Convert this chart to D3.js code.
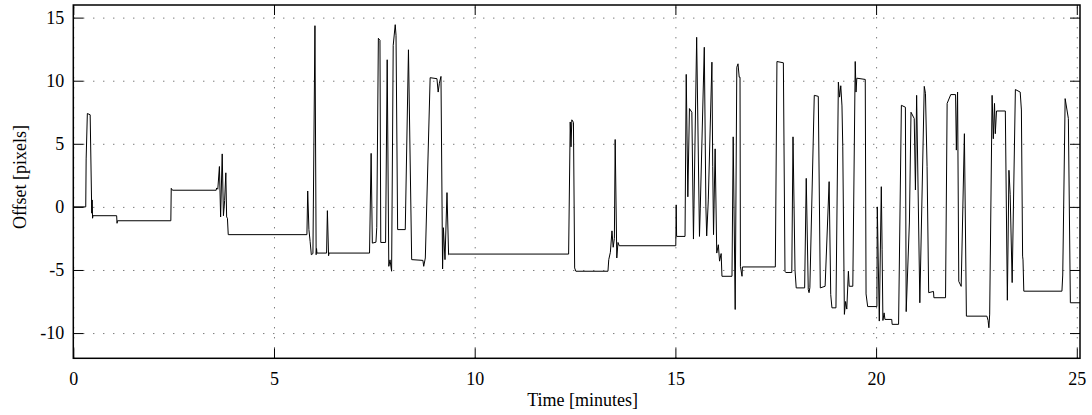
<!DOCTYPE html>
<html>
<head>
<meta charset="utf-8">
<script src="https://cdn.jsdelivr.net/npm/d3@7/dist/d3.min.js"></script>
<style>
  html, body { margin: 0; padding: 0; background: #fff; }
  svg { display: block; font-family: "Liberation Serif", "DejaVu Serif", serif; }
</style>
</head>
<body>
<svg id="chart" width="1092" height="415"></svg>
<script>
// ---- data ----
const xTicks = [0, 5, 10, 15, 20, 25];
const yTicks = [-10, -5, 0, 5, 10, 15];
const yTickLabels = ["-10", "-5", "0", "5", "10", "15"];
const xTickLabels = ["0", "5", "10", "15", "20", "25"];

const times = [
  0, 0.31, 0.32, 0.35, 0.42, 0.46, 0.47, 0.48, 0.49, 1.08, 1.09, 1.10, 2.43, 2.44, 2.47,
  3.56, 3.57, 3.60, 3.64, 3.67, 3.71, 3.74, 3.77, 3.80, 3.82, 3.84, 3.86,
  5.82, 5.84, 5.87, 5.90, 5.93, 5.97, 6.02, 6.05, 6.06, 6.07, 6.31, 6.33, 6.36, 6.37,
  7.38, 7.42, 7.45, 7.54, 7.56, 7.60, 7.64, 7.66, 7.78, 7.82, 7.86, 7.89, 7.93, 7.97,
  8.02, 8.04, 8.08, 8.27, 8.35, 8.43, 8.71, 8.73, 8.77, 8.89, 9.06, 9.09, 9.12, 9.16,
  9.20, 9.22, 9.26, 9.31, 9.35, 9.37,
  12.34, 12.38, 12.40, 12.42, 12.46, 12.49, 12.52, 13.32, 13.34, 13.38, 13.42, 13.45,
  13.48, 13.50, 13.54, 13.57, 13.60,
  15.01, 15.02, 15.03, 15.24, 15.27, 15.31, 15.35, 15.41, 15.45, 15.53, 15.60, 15.62,
  15.72, 15.76, 15.78, 15.82, 15.91, 15.93, 15.95, 15.99, 16.03, 16.07, 16.10, 16.14,
  16.16, 16.41, 16.44, 16.49, 16.53, 16.56, 16.59, 16.61, 16.62, 16.66, 16.67,
  17.49, 17.53, 17.69, 17.73, 17.75, 17.90, 17.93, 17.98, 18.01, 18.22, 18.26, 18.31,
  18.33, 18.35, 18.46, 18.56, 18.61, 18.73, 18.83, 18.87, 18.90, 19.00, 19.06, 19.09,
  19.12, 19.15, 19.17, 19.21, 19.24, 19.27, 19.31, 19.33, 19.42, 19.48, 19.50, 19.52,
  19.73, 19.75, 19.79, 20.02, 20.03, 20.08, 20.13, 20.15, 20.17, 20.20, 20.22, 20.39,
  20.40, 20.56, 20.63, 20.73, 20.75, 20.83, 20.87, 20.95, 20.98, 21.01, 21.09, 21.20,
  21.23, 21.27, 21.31, 21.43, 21.44, 21.73, 21.77, 21.86, 21.98, 22.00, 22.03, 22.06,
  22.12, 22.20, 22.25, 22.76, 22.79, 22.81, 22.83, 22.89, 22.92, 22.95, 22.97, 23.00,
  23.22, 23.27, 23.31, 23.34, 23.39, 23.47, 23.59, 23.62, 23.65, 23.66, 23.68,
  24.63, 24.65, 24.71, 24.79, 24.84, 25.08
];
const offsets = [
  0, 0, 3.8, 7.4, 7.3, -0.5, 0.55, -0.9, -0.7, -0.7, -1.3, -1.1, -1.1, 1.47, 1.32,
  1.32, 1.5, 1.4, 3.2, -0.8, 4.2, -0.7, 0.5, 2.7, -0.8, -0.9, -2.2,
  -2.2, 1.26, -1.8, -2.74, -3.79, -3.7, 14.36, -3.79, -3.3, -3.66, -3.66, -0.3, -3.87, -3.66,
  -3.66, 4.24, -2.87, -2.8, -1.63, 13.36, 13.2, -2.82, -2.82, 11.66, -4.71, -4.2, -5.1, 12.8,
  14.44, 13.6, -1.8, -1.8, 12.45, -4.18, -4.24, -4.71, -4.05, 10.24, 10.16, 9.1, 9.8, 10.34,
  -4.92, -1.65, -4.18, 1.13, -3.79, -3.74,
  -3.74, 6.73, 4.76, 6.9, 6.7, -4.84, -5.1, -5.1, -4.18, -3.6, -1.9, -3.2,
  -2.5, 5.34, -4.05, -2.82, -3.08,
  -3.08, 0.16, -2.34, -2.34, 10.5, 0.8, 7.79, 7.5, -2.55, 13.44, -2.34, -0.1,
  12.65, 0, -2.3, 0.55, 11.47, 3.18, -2.2, 4.6, -3.66, -3.0, -4.3, -3.7,
  -5.5, -5.5, 5.55, -8.13, 11.07, 11.34, 10.28, 10.28, -4.71, -5.5, -4.76,
  -4.76, 11.52, 11.42, -5.1, -5.2, -5.2, 5.55, -5.0, -6.42, -6.42, 2.26, -6.55,
  -6.8, -6.4, 8.84, 8.76, -6.42, -6.29, 2.0, -6.95, -8.0, -8.0, 9.89, 8.7,
  9.6, 8.0, 4.76, -8.52, -7.5, -8.1, -5.1, -6.29, -6.29, 11.52, 9.1, 10.2,
  10.1, -6.9, -7.9, -7.9, 0.0, -9.05, 1.6, -3.4, -9.0, -8.4, -8.92, -8.92,
  -9.31, -9.31, 8.05, 7.9, -8.3, -1.2, 7.5, 7.0, 1.34, 8.84, -7.6, 9.55,
  9.0, 3.2, -6.8, -6.7, -7.2, -7.2, 8.2, 8.9, 8.9, 4.5, 9.1, -5.9,
  -6.3, 5.8, -8.66, -8.66, -9.0, -9.58, -8.5, 8.84, 5.4, 8.2, 5.8, 7.6,
  7.6, -7.4, 2.9, 1.0, -6.0, 9.3, 9.1, 7.68, -3.9, -4.2, -6.68,
  -6.68, -5.4, 8.58, 7.0, -7.6, -7.6
];

const xLabel = "Time [minutes]";
const yLabel = "Offset [pixels]";

// ---- layout ----
const mLeft = 73.3, mRight = 1080, mTop = 5, mBottom = 358.3;
const svg = d3.select("#chart");

const x = d3.scaleLinear().domain([0, 25.08]).range([mLeft, mRight]);
const y = d3.scaleLinear().domain([-12, 16]).range([mBottom, mTop]);

// grid
const grid = svg.append("g");
grid.append("g")
  .attr("transform", `translate(0,${mBottom})`)
  .call(d3.axisBottom(x).tickValues(xTicks).tickSize(-(mBottom - mTop)).tickFormat(""))
  .call(g => g.select(".domain").remove())
  .call(g => g.selectAll("line").attr("stroke", "#444").attr("stroke-dasharray", "1,9"));
grid.append("g")
  .attr("transform", `translate(${mLeft},0)`)
  .call(d3.axisLeft(y).tickValues(yTicks).tickSize(-(mRight - mLeft)).tickFormat(""))
  .call(g => g.select(".domain").remove())
  .call(g => g.selectAll("line").attr("stroke", "#444").attr("stroke-dasharray", "1,9"));

// data line
const pts = times.map((t, i) => [t, offsets[i]]);
svg.append("path")
  .datum(pts)
  .attr("fill", "none")
  .attr("stroke", "#000")
  .attr("stroke-width", 1)
  .attr("stroke-linejoin", "round")
  .attr("d", d3.line().x(d => x(d[0])).y(d => y(d[1])));

// axes with inward ticks
const fs = "18px";
const axB = svg.append("g").attr("transform", `translate(0,${mBottom})`)
  .call(d3.axisBottom(x).tickValues(xTicks).tickSizeInner(-10).tickSizeOuter(0).tickPadding(14)
    .tickFormat((d, i) => xTickLabels[i]));
const axT = svg.append("g").attr("transform", `translate(0,${mTop})`)
  .call(d3.axisTop(x).tickValues(xTicks).tickSizeInner(-10).tickSizeOuter(0).tickFormat(""));
const axL = svg.append("g").attr("transform", `translate(${mLeft},0)`)
  .call(d3.axisLeft(y).tickValues(yTicks).tickSizeInner(-10).tickSizeOuter(0).tickPadding(9)
    .tickFormat((d, i) => yTickLabels[i]));
const axR = svg.append("g").attr("transform", `translate(${mRight},0)`)
  .call(d3.axisRight(y).tickValues(yTicks).tickSizeInner(-10).tickSizeOuter(0).tickFormat(""));

[axB, axT, axL, axR].forEach(a => {
  a.select(".domain").remove();
  a.selectAll("line").attr("stroke", "#000").attr("stroke-width", 1);
  a.selectAll("text").attr("font-family", "Liberation Serif").attr("font-size", fs).attr("fill", "#000");
});

// frame
svg.append("rect")
  .attr("x", mLeft).attr("y", mTop)
  .attr("width", mRight - mLeft).attr("height", mBottom - mTop)
  .attr("fill", "none").attr("stroke", "#000").attr("stroke-width", 1.5);

// axis labels
svg.append("text")
  .attr("x", (mLeft + mRight) / 2 + 6).attr("y", 406)
  .attr("text-anchor", "middle")
  .attr("font-size", "18px")
  .text(xLabel);
svg.append("text")
  .attr("transform", `translate(26,${177}) rotate(-90)`)
  .attr("text-anchor", "middle")
  .attr("font-size", "18px")
  .text(yLabel);
</script>
</body>
</html>
